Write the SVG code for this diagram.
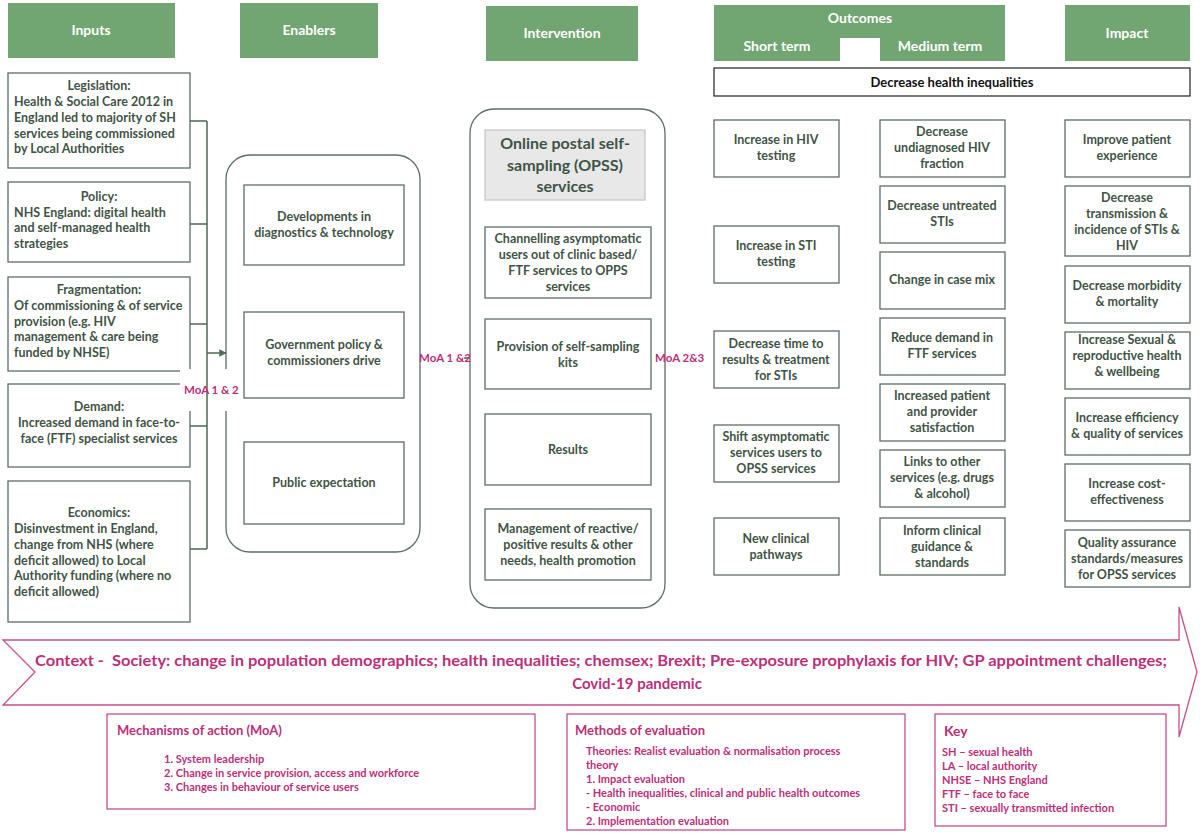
<svg xmlns="http://www.w3.org/2000/svg" width="1200" height="840" viewBox="0 0 1200 840">
<defs>
<marker id="arr" viewBox="0 0 10 10" refX="9" refY="5" markerWidth="5" markerHeight="5" orient="auto" markerUnits="strokeWidth"><path d="M0,0 L10,5 L0,10 Z" fill="#4f6a55"/></marker>
</defs>
<style>
text{font-family:Lato,"Open Sans","Liberation Sans",sans-serif;font-weight:bold}
.hdr{fill:#71a571}
.ht{fill:#ffffff;font-size:14px;text-anchor:middle}
.bx{fill:#ffffff;stroke:#5d6f62;stroke-width:1.3}
.t{fill:#3f5446;font-size:12.5px}
.c{text-anchor:middle}
.pk{fill:#bd2f78}
.pbox{fill:#ffffff;stroke:#c4508f;stroke-width:1.3}
.ln{stroke:#4f6a55;stroke-width:1.5;fill:none}
</style>
<rect width="1200" height="840" fill="#ffffff"/>

<!-- headers -->
<g id="h-inputs"><rect class="hdr" x="8" y="3" width="167" height="55"/><text class="ht" x="91" y="35">Inputs</text></g>
<g id="h-enablers"><rect class="hdr" x="240" y="3" width="138" height="55"/><text class="ht" x="309" y="35">Enablers</text></g>
<g id="h-intervention"><rect class="hdr" x="486" y="6" width="152" height="55"/><text class="ht" x="562" y="38">Intervention</text></g>
<g id="h-outcomes"><path class="hdr" d="M714,5 H1005 V61 H880 V38 H840 V61 H714 Z"/><text class="ht" x="860" y="23">Outcomes</text><text class="ht" x="777" y="51">Short term</text><text class="ht" x="940" y="51">Medium term</text></g>
<g id="h-impact"><rect class="hdr" x="1065" y="5" width="125" height="56"/><text class="ht" x="1127" y="38">Impact</text></g>
<g id="dhi"><rect x="714" y="68" width="476" height="28" fill="#fff" stroke="#222" stroke-width="1.2"/><text x="952" y="87" class="c" style="font-size:13px;fill:#111">Decrease health inequalities</text></g>

<!-- Inputs -->
<g id="in-legislation"><rect class="bx" x="8" y="73" width="182" height="95"/>
<text class="t c" x="99" y="90">Legislation:</text>
<text class="t" x="14" y="106">Health &amp; Social Care 2012 in</text>
<text class="t" x="14" y="122">England led to majority of SH</text>
<text class="t" x="14" y="138">services being commissioned</text>
<text class="t" x="14" y="153">by Local Authorities</text></g>
<g id="in-policy"><rect class="bx" x="8" y="182" width="182" height="80"/>
<text class="t c" x="99" y="201">Policy:</text>
<text class="t" x="14" y="217">NHS England: digital health</text>
<text class="t" x="14" y="232">and self-managed health</text>
<text class="t" x="14" y="248">strategies</text></g>
<g id="in-fragmentation"><rect class="bx" x="8" y="277" width="182" height="94"/>
<text class="t c" x="99" y="294">Fragmentation:</text>
<text class="t" x="14" y="310">Of commissioning &amp; of service</text>
<text class="t" x="14" y="326">provision (e.g. HIV</text>
<text class="t" x="14" y="341">management &amp; care being</text>
<text class="t" x="14" y="357">funded by NHSE)</text></g>
<g id="in-demand"><rect class="bx" x="8" y="384" width="182" height="83"/>
<text class="t c" x="99" y="411">Demand:</text>
<text class="t c" x="99" y="427">Increased demand in face-to-</text>
<text class="t c" x="99" y="443">face (FTF) specialist services</text></g>
<g id="in-economics"><rect class="bx" x="8" y="481" width="182" height="141"/>
<text class="t c" x="99" y="517">Economics:</text>
<text class="t" x="14" y="533">Disinvestment in England,</text>
<text class="t" x="14" y="549">change from NHS (where</text>
<text class="t" x="14" y="565">deficit allowed) to Local</text>
<text class="t" x="14" y="580">Authority funding (where no</text>
<text class="t" x="14" y="596">deficit allowed)</text></g>

<!-- Enablers -->
<g id="enablers"><rect class="bx" x="226" y="155" width="194" height="397" rx="24"/></g>
<g id="en-dev"><rect class="bx" x="244" y="185" width="160" height="80"/>
<text class="t c" x="324" y="221">Developments in</text><text class="t c" x="324" y="237">diagnostics &amp; technology</text></g>
<g id="en-gov"><rect class="bx" x="244" y="312" width="160" height="86"/>
<text class="t c" x="324" y="349">Government policy &amp;</text><text class="t c" x="324" y="365">commissioners drive</text></g>
<g id="en-public"><rect class="bx" x="244" y="442" width="160" height="82"/>
<text class="t c" x="324" y="487">Public expectation</text></g>

<!-- Intervention -->
<g id="intervention"><rect class="bx" x="470" y="109" width="195" height="499" rx="24"/></g>
<g id="iv-opss"><rect x="485" y="130" width="160" height="70" fill="#e8e8e8" stroke="#c8c8c8" stroke-width="1.3"/>
<text class="t c" x="565" y="149" style="font-size:16px">Online postal self-</text>
<text class="t c" x="565" y="171" style="font-size:16px">sampling (OPSS)</text>
<text class="t c" x="565" y="192" style="font-size:16px">services</text></g>
<g id="iv-channel"><rect class="bx" x="485" y="227" width="166" height="71"/>
<text class="t c" x="568" y="243">Channelling asymptomatic</text>
<text class="t c" x="568" y="259">users out of clinic based/</text>
<text class="t c" x="568" y="275">FTF services to OPPS</text>
<text class="t c" x="568" y="291">services</text></g>
<g id="iv-kits"><rect class="bx" x="485" y="319" width="166" height="70"/>
<text class="t c" x="568" y="351">Provision of self-sampling</text>
<text class="t c" x="568" y="367">kits</text></g>
<g id="iv-results"><rect class="bx" x="485" y="414" width="166" height="71"/>
<text class="t c" x="568" y="454">Results</text></g>
<g id="iv-mgmt"><rect class="bx" x="485" y="509" width="166" height="71"/>
<text class="t c" x="568" y="533">Management of reactive/</text>
<text class="t c" x="568" y="549">positive results &amp; other</text>
<text class="t c" x="568" y="565">needs, health promotion</text></g>

<!-- Short term -->
<g id="st-hiv"><rect class="bx" x="714" y="120" width="125" height="57"/>
<text class="t c" x="776" y="144">Increase in HIV</text><text class="t c" x="776" y="160">testing</text></g>
<g id="st-sti"><rect class="bx" x="714" y="226" width="125" height="57"/>
<text class="t c" x="776" y="250">Increase in STI</text><text class="t c" x="776" y="266">testing</text></g>
<g id="st-time"><rect class="bx" x="714" y="331" width="125" height="57"/>
<text class="t c" x="776" y="348">Decrease time to</text><text class="t c" x="776" y="364">results &amp; treatment</text><text class="t c" x="776" y="380">for STIs</text></g>
<g id="st-shift"><rect class="bx" x="714" y="425" width="125" height="57"/>
<text class="t c" x="776" y="441">Shift asymptomatic</text><text class="t c" x="776" y="457">services users to</text><text class="t c" x="776" y="473">OPSS services</text></g>
<g id="st-pathways"><rect class="bx" x="714" y="518" width="125" height="57"/>
<text class="t c" x="776" y="543">New clinical</text><text class="t c" x="776" y="559">pathways</text></g>

<!-- Medium term -->
<g id="mt-undiag"><rect class="bx" x="880" y="120" width="125" height="57"/>
<text class="t c" x="942" y="136">Decrease</text><text class="t c" x="942" y="152">undiagnosed HIV</text><text class="t c" x="942" y="168">fraction</text></g>
<g id="mt-untreated"><rect class="bx" x="880" y="186" width="125" height="57"/>
<text class="t c" x="942" y="210">Decrease untreated</text><text class="t c" x="942" y="226">STIs</text></g>
<g id="mt-casemix"><rect class="bx" x="880" y="252" width="125" height="57"/>
<text class="t c" x="942" y="284">Change in case mix</text></g>
<g id="mt-demand"><rect class="bx" x="880" y="318" width="125" height="57"/>
<text class="t c" x="942" y="342">Reduce demand in</text><text class="t c" x="942" y="358">FTF services</text></g>
<g id="mt-satisf"><rect class="bx" x="880" y="384" width="125" height="57"/>
<text class="t c" x="942" y="400">Increased patient</text><text class="t c" x="942" y="416">and provider</text><text class="t c" x="942" y="432">satisfaction</text></g>
<g id="mt-links"><rect class="bx" x="880" y="450" width="125" height="57"/>
<text class="t c" x="942" y="466">Links to other</text><text class="t c" x="942" y="482">services (e.g. drugs</text><text class="t c" x="942" y="498">&amp; alcohol)</text></g>
<g id="mt-guidance"><rect class="bx" x="880" y="518" width="125" height="57"/>
<text class="t c" x="942" y="535">Inform clinical</text><text class="t c" x="942" y="551">guidance &amp;</text><text class="t c" x="942" y="567">standards</text></g>

<!-- Impact -->
<g id="im-exp"><rect class="bx" x="1065" y="120" width="125" height="57"/>
<text class="t c" x="1127" y="144">Improve patient</text><text class="t c" x="1127" y="160">experience</text></g>
<g id="im-trans"><rect class="bx" x="1065" y="186" width="125" height="70"/>
<text class="t c" x="1127" y="202">Decrease</text><text class="t c" x="1127" y="218">transmission &amp;</text><text class="t c" x="1127" y="234">incidence of STIs &amp;</text><text class="t c" x="1127" y="250">HIV</text></g>
<g id="im-morb"><rect class="bx" x="1065" y="266" width="125" height="57"/>
<text class="t c" x="1127" y="290">Decrease morbidity</text><text class="t c" x="1127" y="306">&amp; mortality</text></g>
<g id="im-srh"><rect class="bx" x="1065" y="332" width="125" height="57"/>
<text class="t c" x="1127" y="344">Increase Sexual &amp;</text><text class="t c" x="1127" y="360">reproductive health</text><text class="t c" x="1127" y="376">&amp; wellbeing</text></g>
<g id="im-eff"><rect class="bx" x="1065" y="398" width="125" height="57"/>
<text class="t c" x="1127" y="422">Increase efficiency</text><text class="t c" x="1127" y="438">&amp; quality of services</text></g>
<g id="im-cost"><rect class="bx" x="1065" y="464" width="125" height="57"/>
<text class="t c" x="1127" y="488">Increase cost-</text><text class="t c" x="1127" y="504">effectiveness</text></g>
<g id="im-qa"><rect class="bx" x="1065" y="530" width="125" height="57"/>
<text class="t c" x="1127" y="547">Quality assurance</text><text class="t c" x="1127" y="563">standards/measures</text><text class="t c" x="1127" y="579">for OPSS services</text></g>

<!-- label background for MoA 1 & 2 -->
<rect x="180" y="369" width="56" height="42" fill="#fff"/>

<!-- connectors -->
<g id="connectors">
<path class="ln" d="M190,121 H207 M190,224 H207 M190,324 H207 M190,426 H207 M190,549 H207 M207,121 V549"/>
<path class="ln" d="M207,353 H226" marker-end="url(#arr)"/>
<path class="ln" d="M464,358 H470"/>
</g>

<!-- MoA labels -->
<g id="moa-labels" style="font-size:11.5px">
<text class="pk" x="184" y="394">MoA 1 &amp; 2</text>
<text class="pk" x="419" y="362">MoA 1 &amp;2</text>
<text class="pk" x="655" y="362">MoA 2&amp;3</text>
</g>

<!-- Context arrow -->
<g id="context">
<polygon points="3,640 1179,640 1179,607 1197,672 1179,737 1179,705 3,705 35,672" fill="#fff" stroke="#c4508f" stroke-width="1.3"/>
<text class="pk" x="35" y="666" style="font-size:15px" textLength="1132" lengthAdjust="spacingAndGlyphs">Context -&#160; Society: change in population demographics; health inequalities; chemsex; Brexit; Pre-exposure prophylaxis for HIV; GP appointment challenges;</text>
<text class="pk c" x="637" y="689" style="font-size:15px">Covid-19 pandemic</text>
</g>

<!-- Bottom boxes -->
<g id="moa-box"><rect class="pbox" x="107" y="714" width="428" height="95"/>
<text class="pk" x="117" y="735" style="font-size:13px">Mechanisms of action (MoA)</text>
<text class="pk" x="164" y="763" style="font-size:11px">1. System leadership</text>
<text class="pk" x="164" y="777" style="font-size:11px">2. Change in service provision, access and workforce</text>
<text class="pk" x="164" y="791" style="font-size:11px">3. Changes in behaviour of service users</text></g>
<g id="methods-box"><rect class="pbox" x="567" y="714" width="338" height="116"/>
<text class="pk" x="575" y="735" style="font-size:13px">Methods of evaluation</text>
<text class="pk" x="586" y="755" style="font-size:11px">Theories: Realist evaluation &amp; normalisation process</text>
<text class="pk" x="586" y="769" style="font-size:11px">theory</text>
<text class="pk" x="586" y="783" style="font-size:11px">1. Impact evaluation</text>
<text class="pk" x="586" y="797" style="font-size:11px">- Health inequalities, clinical and public health outcomes</text>
<text class="pk" x="586" y="811" style="font-size:11px">- Economic</text>
<text class="pk" x="586" y="825" style="font-size:11px">2. Implementation evaluation</text></g>
<g id="key-box"><rect class="pbox" x="935" y="714" width="231" height="112"/>
<text class="pk" x="944" y="736" style="font-size:14px">Key</text>
<text class="pk" x="942" y="756" style="font-size:11px">SH – sexual health</text>
<text class="pk" x="942" y="770" style="font-size:11px">LA – local authority</text>
<text class="pk" x="942" y="784" style="font-size:11px">NHSE – NHS England</text>
<text class="pk" x="942" y="798" style="font-size:11px">FTF – face to face</text>
<text class="pk" x="942" y="812" style="font-size:11px">STI – sexually transmitted infection</text></g>
</svg>
